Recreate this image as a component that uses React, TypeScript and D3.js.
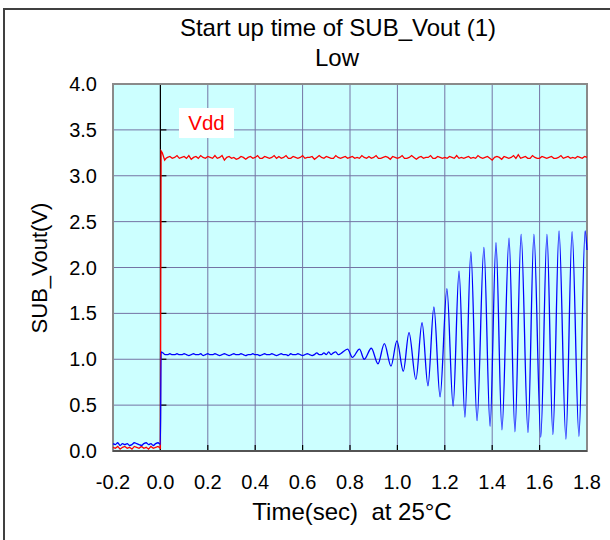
import * as d3 from 'd3';

// axis ticks
const xTickValues = [-0.2, 0.0, 0.2, 0.4, 0.6, 0.8, 1.0, 1.2, 1.4, 1.6, 1.8];
const yTickValues = [0.0, 0.5, 1.0, 1.5, 2.0, 2.5, 3.0, 3.5, 4.0];

// samples every 0.01 s from -0.20 to 0.00
const subVoutBefore = [0.08, 0.07, 0.09, 0.06, 0.08, 0.07, 0.08, 0.06, 0.07, 0.09, 0.08, 0.07, 0.06, 0.08, 0.09, 0.07, 0.08, 0.06, 0.08, 0.09, 0.07];
const vddBefore = [0.04, 0.03, 0.05, 0.02, 0.04, 0.05, 0.03, 0.04, 0.02, 0.05, 0.04, 0.03, 0.05, 0.03, 0.04, 0.02, 0.05, 0.03, 0.04, 0.05, 0.03];

// power-on edge [t, V]
const subVoutEdge: [number, number][] = [[0.0, 0.07], [0.003, 1.08]];
const vddEdge: [number, number][] = [[0.0, 0.04], [0.003, 3.27], [0.008, 3.25], [0.013, 3.21], [0.018, 3.17], [0.024, 3.19]];

// SUB_Vout plateau, every 0.01 s from 0.01 to 0.75
const subVoutFlat = [
    1.07, 1.05, 1.05, 1.06, 1.05, 1.05, 1.06, 1.05, 1.05, 1.06, 1.05, 1.04, 1.05, 1.06, 1.05, 1.05, 1.06, 1.04, 1.05, 1.06,
    1.05, 1.05, 1.06, 1.05, 1.04, 1.05, 1.06, 1.05, 1.04, 1.05, 1.06, 1.05, 1.05, 1.06, 1.05, 1.04, 1.05, 1.05, 1.06, 1.05,
    1.05, 1.04, 1.05, 1.06, 1.05, 1.05, 1.06, 1.05, 1.04, 1.05, 1.06, 1.05, 1.05, 1.04, 1.06, 1.05, 1.05, 1.06, 1.05, 1.04,
    1.05, 1.06, 1.05, 1.04, 1.05, 1.07, 1.05, 1.05, 1.07, 1.05, 1.08, 1.05, 1.07, 1.08, 1.05
];

// oscillation peaks / troughs [t, V]
const subVoutSwing: [number, number][] = [
    [0.76, 1.06], [0.79, 1.11], [0.81, 1.02], [0.84, 1.11], [0.86, 1.00], [0.89, 1.12],
    [0.918, 0.95], [0.945, 1.17], [0.973, 0.925], [0.998, 1.20], [1.025, 0.87], [1.049, 1.29],
    [1.078, 0.78], [1.104, 1.40], [1.129, 0.71], [1.154, 1.57], [1.180, 0.59], [1.209, 1.77],
    [1.235, 0.49], [1.260, 1.96], [1.285, 0.37], [1.310, 2.17], [1.336, 0.33], [1.365, 2.22],
    [1.391, 0.27], [1.416, 2.27], [1.441, 0.23], [1.471, 2.32], [1.496, 0.21], [1.522, 2.36],
    [1.551, 0.20], [1.576, 2.36], [1.605, 0.15], [1.631, 2.36], [1.656, 0.18], [1.682, 2.40],
    [1.711, 0.13], [1.737, 2.39], [1.766, 0.16], [1.792, 2.40], [1.80, 2.19]
];

// Vdd steady, every 0.01 s from 0.03 to 1.80
const vddSteady = [
    3.20, 3.21, 3.19, 3.20, 3.22, 3.19, 3.20, 3.21, 3.19, 3.22, 3.18, 3.20, 3.21, 3.19, 3.22, 3.20, 3.19, 3.21, 3.20, 3.19,
    3.22, 3.19, 3.20, 3.22, 3.17, 3.20, 3.21, 3.19, 3.20, 3.18, 3.19, 3.21, 3.20, 3.18, 3.20, 3.21, 3.19, 3.20, 3.22, 3.19,
    3.19, 3.21, 3.20, 3.19, 3.20, 3.22, 3.19, 3.21, 3.19, 3.20, 3.22, 3.19, 3.19, 3.21, 3.20, 3.19, 3.20, 3.22, 3.19, 3.20,
    3.20, 3.21, 3.18, 3.20, 3.22, 3.20, 3.19, 3.21, 3.20, 3.19, 3.19, 3.22, 3.20, 3.19, 3.20, 3.21, 3.19, 3.20, 3.21, 3.19,
    3.20, 3.19, 3.22, 3.20, 3.19, 3.21, 3.19, 3.20, 3.22, 3.19, 3.19, 3.20, 3.21, 3.20, 3.18, 3.21, 3.20, 3.19, 3.20, 3.22,
    3.19, 3.19, 3.20, 3.22, 3.20, 3.18, 3.20, 3.21, 3.19, 3.20, 3.20, 3.22, 3.19, 3.19, 3.21, 3.20, 3.19, 3.20, 3.19, 3.21,
    3.20, 3.19, 3.22, 3.19, 3.20, 3.19, 3.20, 3.21, 3.19, 3.20, 3.19, 3.22, 3.20, 3.19, 3.20, 3.21, 3.19, 3.17, 3.20, 3.21,
    3.20, 3.18, 3.21, 3.20, 3.19, 3.20, 3.22, 3.19, 3.23, 3.19, 3.20, 3.21, 3.19, 3.19, 3.22, 3.20, 3.19, 3.19, 3.21, 3.20,
    3.19, 3.20, 3.21, 3.19, 3.19, 3.20, 3.22, 3.19, 3.20, 3.21, 3.19, 3.20, 3.19, 3.21, 3.20, 3.19, 3.21, 3.20
];

const FONT = "'Liberation Sans', Arial, sans-serif";

const sampled = (vals: number[], t0: number): [number, number][] =>
    vals.map((v, i) => [+(t0 + i * 0.01).toFixed(3), v]);

const App = () => {
    const margin = { top: 84, right: 23, bottom: 89, left: 113 };
    const W = 610, H = 540;

    const x = d3.scaleLinear().domain([-0.2, 1.8]).range([margin.left, W - margin.right]);
    const y = d3.scaleLinear().domain([0, 4]).range([H - margin.bottom, margin.top]);
    // plain hyphen for negatives, as in the original
    const fmt = (v: number) => d3.format(".1f")(v).replace('\u2212', '-');

    const blueData: [number, number][] = [
        ...sampled(subVoutBefore, -0.2),
        ...subVoutEdge,
        ...sampled(subVoutFlat, 0.01),
        ...subVoutSwing
    ];
    const redData: [number, number][] = [
        ...sampled(vddBefore, -0.2),
        ...vddEdge,
        ...sampled(vddSteady, 0.03)
    ];

    const redLine = d3.line<[number, number]>()
        .x(d => x(d[0]))
        .y(d => y(d[1]));
    const blueLine = d3.line<[number, number]>()
        .x(d => x(d[0]))
        .y(d => y(d[1]))
        .curve(d3.curveMonotoneX);

    const x0 = x(0), y0 = y(0);
    const [left, right] = x.range();
    const top = y(4);

    return (
        <svg width={W} height={H} style={{ position: 'absolute', left: 0, top: 0, fontFamily: FONT }}>
            <rect x={0} y={0} width={W} height={H} fill="#ffffff" />
            <rect x={4} y={9} width={W + 10} height={H + 10} fill="none" stroke="#404040" strokeWidth={2} />

            <text x={338} y={36} textAnchor="middle" fontSize={24}>Start up time of SUB_Vout (1)</text>
            <text x={337} y={66} textAnchor="middle" fontSize={24}>Low</text>

            <rect x={left} y={top} width={right - left} height={y0 - top} fill="#ccffff" />

            {xTickValues.map(t => (
                <line key={'gx' + t} x1={x(t)} x2={x(t)} y1={top} y2={y0} stroke="#7474a4" strokeWidth={1} />
            ))}
            {yTickValues.map(v => (
                <line key={'gy' + v} x1={left} x2={right} y1={y(v)} y2={y(v)} stroke="#7474a4" strokeWidth={1} />
            ))}

            {/* y axis at t = 0 */}
            <line x1={x0} x2={x0} y1={top} y2={y0} stroke="#000000" strokeWidth={1.2} />
            {yTickValues.map(v => (
                <line key={'ty' + v} x1={x0} x2={x0 + 6} y1={y(v)} y2={y(v)} stroke="#000000" strokeWidth={1.2} />
            ))}
            {xTickValues.map(t => (
                <line key={'tx' + t} x1={x(t)} x2={x(t)} y1={y0} y2={y0 - 6} stroke="#000000" strokeWidth={1.2} />
            ))}

            <rect x={left} y={top} width={right - left} height={y0 - top} fill="none" stroke="#8a8a8a" strokeWidth={2} />
            <line x1={left} x2={right} y1={y0} y2={y0} stroke="#404040" strokeWidth={1.5} />

            <path d={redLine(redData) || ''} fill="none" stroke="#ff0000" strokeWidth={1.3} />
            <path d={blueLine(blueData) || ''} fill="none" stroke="#0000ff" strokeWidth={1.3} />

            <rect x={179} y={108} width={55} height={30} fill="#ffffff" />
            <text x={206.5} y={130} textAnchor="middle" fontSize={20.5} fill="#ff0000">Vdd</text>

            {yTickValues.map(v => (
                <text key={'ly' + v} x={97} y={y(v) + 7} textAnchor="end" fontSize={20}>{fmt(v)}</text>
            ))}
            {xTickValues.map(t => (
                <text key={'lx' + t} x={x(t)} y={489} textAnchor="middle" fontSize={20}>{fmt(t)}</text>
            ))}

            <text x={352} y={520} textAnchor="middle" fontSize={24} style={{ whiteSpace: 'pre' }}>{'Time(sec)  at 25°C'}</text>
            <text transform={`translate(47,268) rotate(-90)`} textAnchor="middle" fontSize={22}>SUB_Vout(V)</text>
        </svg>
    );
};

export default App;
